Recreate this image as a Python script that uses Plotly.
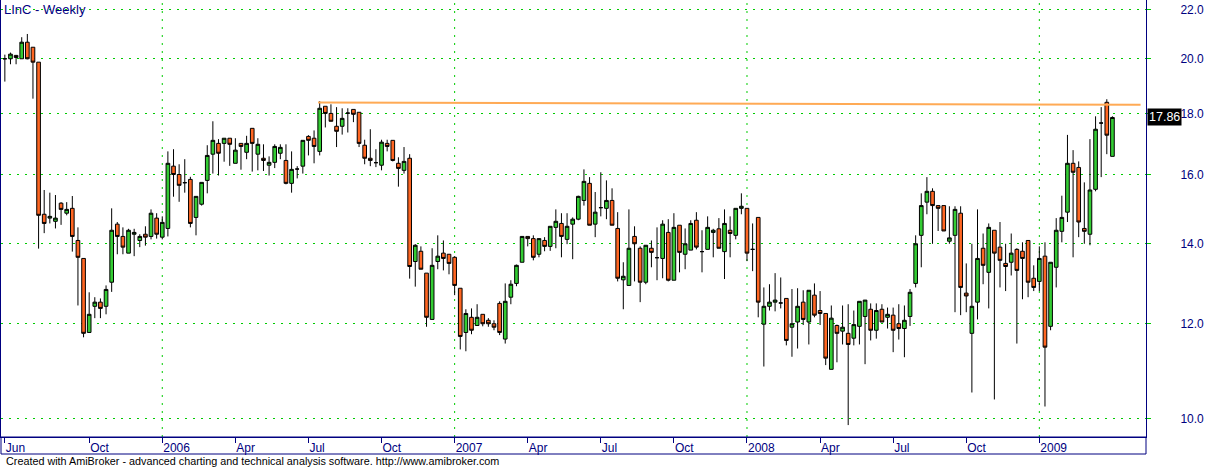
import math
import pandas as pd
import plotly.graph_objects as go

# ---------------- data ----------------
start_date = "2005-06-24"
n_bars = 198
dates = pd.date_range(start_date, periods=n_bars, freq="7D")

open_ = [
    20.00, 20.00, 20.13, 20.00, 20.65, 20.45, 19.87, 14.82, 14.71, 14.62,
    15.14, 14.85, 14.99, 14.09, 13.61, 11.80, 12.41, 12.51, 12.41, 13.00,
    14.54, 14.20, 13.75, 14.26, 14.09, 14.26, 14.20, 14.71, 14.18, 14.42,
    16.26, 16.00, 15.75, 15.85, 14.73, 15.11, 15.82, 16.64, 16.99, 16.99,
    17.16, 16.35, 16.99, 16.70, 17.49, 16.64, 16.51, 16.29, 16.38, 16.67,
    16.44, 15.73, 16.17, 16.26, 17.22, 17.16, 16.73, 18.25, 18.00, 17.56,
    17.56, 18.01, 18.14, 18.04, 16.93, 16.51, 16.37, 16.29, 16.99, 17.09,
    16.35, 16.13, 16.51, 13.53, 13.80, 13.23, 12.10, 13.53, 13.75, 13.72,
    13.64, 12.85, 11.80, 12.15, 11.96, 12.22, 12.08, 12.00, 12.48, 11.65,
    12.63, 12.97, 13.51, 14.20, 14.14, 13.72, 14.09, 13.93, 14.45, 14.56,
    14.12, 14.54, 14.68, 15.22, 15.73, 14.54, 15.01, 14.99, 15.22, 14.42,
    13.06, 12.92, 14.20, 13.88, 13.00, 13.88, 13.63, 13.61, 14.31, 13.05,
    14.51, 13.72, 13.83, 14.65, 13.79, 13.85, 14.31, 14.41, 13.79, 14.37,
    14.23, 14.99, 14.99, 13.85, 14.73, 11.99, 12.41, 12.51, 12.49, 12.60,
    11.92, 12.04, 12.51, 12.04, 12.68, 12.31, 12.24, 10.99, 11.96, 11.83,
    11.78, 11.67, 11.94, 12.17, 12.34, 11.85, 12.34, 12.15, 12.20, 12.00,
    11.89, 12.17, 12.97, 14.23, 15.17, 15.49, 15.07, 15.07, 14.07, 14.23,
    14.85, 12.73, 11.78, 12.51, 13.88, 13.25, 14.37, 13.91, 13.48, 13.51,
    13.85, 13.80, 14.09, 13.10, 13.02, 13.67, 11.94, 13.38, 14.34, 14.88,
    16.35, 16.22, 14.42, 14.26, 15.55, 17.67, 18.39, 16.57,
]
high = [
    20.16, 20.24, 20.15, 20.85, 20.98, 20.45, 19.87, 15.53, 15.45, 15.38,
    15.17, 15.17, 15.35, 14.45, 13.61, 12.75, 12.63, 12.60, 12.92, 14.99,
    14.60, 14.45, 14.41, 14.41, 14.26, 14.48, 14.96, 14.85, 14.76, 16.73,
    16.80, 16.32, 16.48, 15.93, 15.34, 15.76, 16.93, 17.73, 17.13, 17.16,
    17.16, 17.16, 16.99, 17.24, 17.49, 17.16, 16.96, 16.57, 16.96, 16.96,
    16.96, 16.73, 16.26, 17.09, 17.26, 17.42, 18.43, 18.25, 18.32, 18.22,
    18.18, 18.18, 18.14, 18.04, 17.11, 17.46, 16.80, 17.11, 17.11, 17.09,
    16.54, 16.87, 16.64, 13.99, 13.93, 13.23, 13.88, 14.23, 14.09, 13.72,
    13.67, 12.85, 12.34, 12.36, 12.46, 12.22, 12.13, 12.08, 12.53, 12.97,
    13.05, 13.45, 14.20, 14.20, 14.23, 14.14, 14.18, 14.48, 14.96, 14.85,
    14.85, 14.73, 15.36, 16.16, 15.92, 15.47, 16.07, 15.82, 15.58, 14.88,
    13.51, 14.96, 14.48, 13.93, 13.96, 14.09, 14.45, 14.65, 14.68, 14.85,
    14.51, 14.42, 14.65, 14.88, 14.37, 14.76, 14.41, 14.71, 14.96, 14.76,
    14.99, 15.43, 14.99, 14.56, 14.73, 12.87, 12.95, 13.23, 13.12, 12.60,
    12.83, 12.85, 12.80, 12.80, 12.97, 12.78, 12.24, 12.43, 11.98, 12.43,
    12.46, 12.31, 12.53, 12.56, 12.48, 12.48, 12.46, 12.38, 12.38, 12.46,
    12.43, 12.83, 14.23, 15.43, 15.92, 15.58, 15.07, 15.07, 15.05, 15.05,
    15.05, 13.48, 14.00, 14.96, 14.28, 14.56, 14.37, 14.60, 14.00, 14.28,
    13.88, 14.04, 14.09, 13.43, 13.93, 14.04, 13.51, 14.71, 15.36, 17.27,
    16.77, 16.41, 15.76, 17.13, 17.90, 18.22, 18.50, 17.90,
]
low = [
    19.14, 19.79, 19.79, 20.00, 19.98, 18.52, 13.87, 14.29, 14.56, 14.42,
    14.52, 14.79, 13.79, 12.43, 11.69, 11.80, 12.13, 12.13, 12.22, 12.76,
    13.72, 13.72, 13.75, 13.67, 13.91, 13.95, 14.12, 14.14, 14.12, 14.20,
    15.33, 15.18, 15.45, 14.45, 14.23, 15.07, 15.43, 16.03, 15.97, 16.40,
    16.27, 16.35, 16.15, 16.48, 16.09, 16.13, 16.11, 15.97, 16.20, 16.48,
    15.70, 15.45, 15.88, 16.03, 16.60, 16.35, 16.60, 17.52, 17.73, 16.87,
    17.28, 17.35, 17.70, 16.87, 16.32, 16.26, 16.23, 16.13, 16.73, 16.41,
    15.63, 16.03, 13.09, 12.89, 13.33, 11.93, 12.10, 13.33, 13.30, 13.20,
    12.68, 11.42, 11.38, 11.76, 11.96, 11.94, 11.93, 11.85, 11.74, 11.55,
    12.46, 12.90, 13.51, 13.93, 13.56, 13.64, 13.80, 13.81, 13.88, 13.64,
    13.99, 13.59, 14.65, 15.07, 14.51, 14.18, 14.76, 14.68, 14.51, 13.02,
    12.34, 12.92, 13.02, 12.51, 12.95, 13.38, 13.05, 13.10, 13.02, 13.05,
    13.25, 13.33, 13.83, 13.85, 13.25, 13.85, 13.64, 13.88, 13.08, 13.64,
    14.12, 14.82, 13.54, 13.28, 12.15, 11.05, 12.31, 12.29, 12.36, 11.51,
    11.26, 11.44, 11.97, 11.53, 12.15, 11.97, 11.08, 10.99, 11.14, 11.53,
    9.87, 11.51, 11.53, 11.10, 11.62, 11.66, 12.04, 11.89, 11.36, 11.64,
    11.25, 11.95, 12.87, 13.38, 14.82, 14.00, 14.35, 14.35, 14.00, 12.27,
    12.20, 12.27, 10.51, 12.10, 12.95, 12.36, 10.37, 12.87, 12.78, 13.17,
    11.55, 12.58, 12.63, 12.78, 12.78, 10.23, 11.85, 12.87, 14.04, 14.60,
    13.64, 14.18, 14.00, 13.96, 15.49, 15.92, 16.64, 16.57,
]
close = [
    20.00, 20.18, 20.05, 20.65, 20.00, 19.87, 14.79, 14.56, 14.76, 14.71,
    14.96, 14.96, 14.20, 13.64, 11.78, 12.22, 12.51, 12.36, 12.82, 14.37,
    14.20, 13.91, 14.37, 14.31, 14.20, 14.18, 14.85, 14.26, 14.59, 16.35,
    16.00, 15.67, 15.75, 14.56, 15.34, 15.76, 16.60, 17.09, 16.67, 17.16,
    16.96, 16.77, 16.89, 16.99, 16.99, 16.96, 16.44, 16.38, 16.89, 16.86,
    15.73, 16.16, 16.17, 17.09, 17.09, 16.89, 18.18, 18.00, 17.73, 17.39,
    17.83, 18.01, 17.97, 16.99, 16.51, 16.44, 16.37, 17.03, 16.89, 16.44,
    16.19, 16.41, 13.40, 13.96, 13.33, 12.15, 13.43, 13.67, 13.61, 13.48,
    12.92, 11.71, 12.24, 11.85, 12.15, 12.00, 12.00, 11.92, 11.80, 12.53,
    12.95, 13.43, 14.20, 14.14, 13.64, 14.14, 13.93, 14.48, 14.62, 14.20,
    14.48, 14.68, 15.34, 15.79, 14.51, 14.88, 15.01, 15.22, 14.51, 13.10,
    13.15, 13.88, 14.00, 13.00, 13.96, 13.77, 13.63, 14.54, 13.05, 14.45,
    13.77, 14.00, 14.56, 13.91, 13.79, 14.45, 14.37, 13.88, 14.56, 14.28,
    14.99, 15.05, 13.75, 13.85, 12.51, 12.41, 12.51, 12.56, 12.49, 11.62,
    12.00, 12.41, 12.10, 12.80, 12.20, 12.24, 11.23, 12.13, 11.78, 11.92,
    11.53, 11.98, 12.53, 12.56, 11.85, 12.31, 12.04, 12.22, 11.85, 11.89,
    12.08, 12.75, 14.00, 15.07, 15.49, 15.07, 14.99, 14.35, 14.16, 14.96,
    12.87, 12.66, 12.41, 13.61, 13.43, 14.45, 13.75, 13.56, 13.40, 13.75,
    13.30, 13.61, 13.00, 12.87, 13.61, 11.47, 13.51, 14.37, 14.73, 16.35,
    16.07, 14.60, 14.34, 15.53, 17.46, 17.67, 17.26, 17.86,
]

# resistance (trend) line end points
trend_x = ["2006-07-19", "2009-05-08"]
trend_y = [18.38, 18.30]

# axis ticks
month_tick_dates = [
    "2005-06-24", "2005-10-07", "2006-01-06", "2006-04-07", "2006-07-07",
    "2006-10-06", "2007-01-05", "2007-04-06", "2007-07-06", "2007-10-05",
    "2008-01-04", "2008-04-04", "2008-07-04", "2008-10-03", "2009-01-02",
]
month_tick_labels = [
    "Jun", "Oct", "2006", "Apr", "Jul", "Oct", "2007", "Apr", "Jul", "Oct",
    "2008", "Apr", "Jul", "Oct", "2009",
]
year_grid_dates = ["2006-01-06", "2007-01-05", "2008-01-04", "2009-01-02"]
price_ticks = [10, 12, 14, 16, 18, 20, 22]
price_tick_labels = ["10.0", "12.0", "14.0", "16.0", "18.0", "20.0", "22.0"]
last_close_label = "17.86"

x_range = ["2005-06-19 05:00", "2009-05-14 19:00"]
y_range = [9.646, 22.40]

# ---------------- styling ----------------
NAVY = "#000080"
GRID = "#00CC00"
UP = "#33CC33"
DOWN = "#FF6622"
FONT = "Liberation Sans, Arial, sans-serif"

fig = go.Figure()
fig.add_trace(go.Candlestick(
    x=dates, open=open_, high=high, low=low, close=close,
    increasing=dict(fillcolor=UP, line=dict(color="black", width=1)),
    decreasing=dict(fillcolor=DOWN, line=dict(color="black", width=1)),
    whiskerwidth=0, showlegend=False, hoverinfo="skip",
))
fig.add_trace(go.Scatter(
    x=trend_x, y=trend_y, mode="lines",
    line=dict(color="#FFAA55", width=2), showlegend=False, hoverinfo="skip",
))

shapes = []
for d in year_grid_dates:
    shapes.append(dict(type="line", xref="x", yref="paper", x0=d, x1=d, y0=0, y1=1,
                       line=dict(color=GRID, width=1, dash="2px,6px"), layer="below"))
# axis strip below plot
strip_h = 17 / 437
shapes.append(dict(type="rect", xref="paper", yref="paper", x0=0, x1=1, y0=-strip_h, y1=0,
                   line=dict(color=NAVY, width=1), fillcolor="rgba(0,0,0,0)", layer="above"))

annotations = [
    dict(text="LInC - Weekly", xref="paper", yref="paper", x=0.0005, y=0.979,
         xanchor="left", yanchor="middle", showarrow=False,
         font=dict(family=FONT, size=13, color=NAVY)),
    dict(text="Created with AmiBroker - advanced charting and technical analysis software. http://www.amibroker.com",
         xref="paper", yref="paper", x=0.0025, y=-0.0549, xanchor="left", yanchor="middle",
         showarrow=False, font=dict(family=FONT, size=10.8, color="black")),
    dict(text=last_close_label, xref="paper", yref="y", x=1.0, y=math.log10(close[-1]),
         xanchor="left", yanchor="middle", showarrow=False, bgcolor="black",
         font=dict(family=FONT, size=12.5, color="white"), borderpad=1, xshift=1),
]

fig.update_layout(
    width=1207, height=467,
    margin=dict(l=1, r=61, t=0, b=30),
    paper_bgcolor="white", plot_bgcolor="white",
    boxgap=0.35, boxgroupgap=0,
    shapes=shapes, annotations=annotations,
    xaxis=dict(
        type="date", range=x_range, rangeslider=dict(visible=False),
        tickvals=month_tick_dates, ticktext=month_tick_labels,
        ticks="outside", ticklen=5, tickcolor=NAVY, tickwidth=1,
        ticklabelposition="outside right",
        tickfont=dict(family=FONT, size=12, color=NAVY),
        showgrid=False, zeroline=False,
        showline=True, linecolor=NAVY, linewidth=1, mirror=True,
    ),
    yaxis=dict(
        type="log", range=[math.log10(y_range[0]), math.log10(y_range[1])],
        side="right", tickvals=price_ticks, ticktext=price_tick_labels,
        ticks="outside", ticklen=4, tickcolor=GRID, tickwidth=1,
        ticklabelstandoff=27,
        tickfont=dict(family=FONT, size=12, color=NAVY),
        showgrid=True, gridcolor=GRID, gridwidth=1, griddash="2px,6px",
        zeroline=False,
        showline=True, linecolor=NAVY, linewidth=1, mirror=True,
    ),
)

fig.write_html("out.html", config={"displayModeBar": False},
               post_script="document.body.style.margin='0px';")
